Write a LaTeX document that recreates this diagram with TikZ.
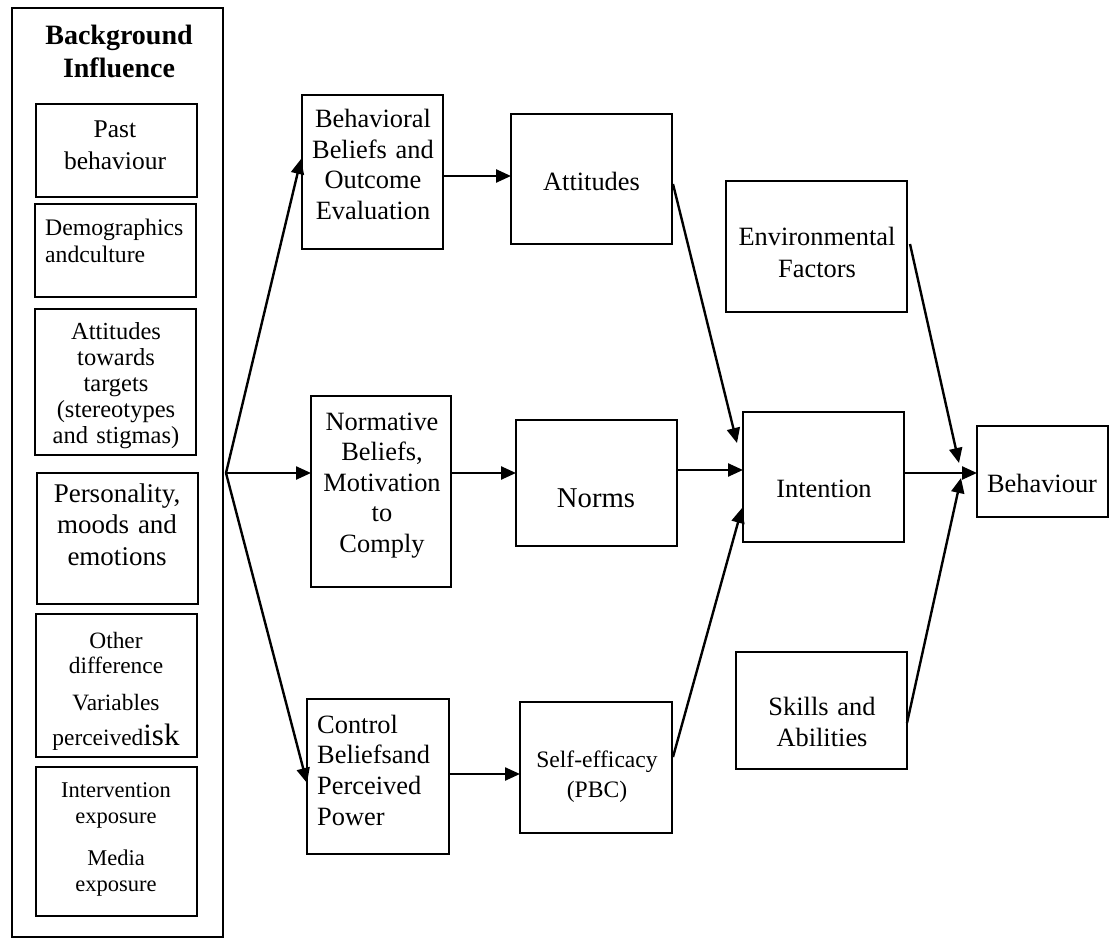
\documentclass[tikz,border=0pt]{standalone}
\usepackage{fontspec}
\setmainfont{Liberation Serif}
\usetikzlibrary{arrows.meta,calc}
\newcommand\myfs[2]{\fontsize{#1}{#2}\selectfont}
\begin{document}
\begin{tikzpicture}[x=1pt,y=-1pt,
  box/.style={draw, line width=2.6pt, inner sep=0pt, outer sep=0pt},
  outerbox/.style={draw, line width=1.7pt, inner sep=0pt, outer sep=0pt},
  ctext/.style={inner sep=0pt, anchor=base, text width=190pt, align=center},
  ltext/.style={inner sep=0pt, anchor=base west, text width=160pt, align=left},
  arr/.style={line width=2.4pt, -{Triangle[length=15pt,width=13pt]}}
]
\useasboundingbox (0,0) rectangle (1111,939);

% left column
\node[outerbox, minimum width=211, minimum height=929] (bg) at (117.5,472.5) {};
\node[ctext, font=\myfs{28}{33}\bfseries] (bgt) at (119,45) {Background\\Influence};

\node[box, minimum width=161, minimum height=93] (past) at (116.5,150.5) {};
\node[ctext, font=\myfs{25.5}{32}] (pastt) at (115,138) {Past\\behaviour};

\node[box, minimum width=161, minimum height=93] (demo) at (115.5,250.5) {};
\node[ltext, font=\myfs{23.7}{27}] (demot) at (45,235) {Demographics\\andculture};

\node[box, minimum width=161, minimum height=146] (att2) at (115.5,382) {};
\node[ctext, font=\myfs{24.5}{26}] (att2t) at (116,339) {Attitudes\\towards\\targets\\(stereotypes\\and stigmas)};

\node[box, minimum width=161, minimum height=131] (pers) at (117.5,538.5) {};
\node[ctext, font=\myfs{27}{31.5}] (perst) at (117,502) {Personality,\\moods and\\emotions};

\node[box, minimum width=161, minimum height=143] (other) at (116.5,685.5) {};
\node[ctext, font=\myfs{23.4}{25}] (othert) at (116,648) {Other\\difference\\[12pt]Variables\\[10pt]perceived{\myfs{31}{31}isk}};

\node[box, minimum width=161, minimum height=149] (interv) at (116.5,841.5) {};
\node[ctext, font=\myfs{22.5}{26}] (intervt) at (116,797) {Intervention\\exposure\\[16pt]Media\\exposure};

% middle column
\node[box, minimum width=141, minimum height=154] (bb) at (372.5,172) {};
\node[ctext, font=\myfs{26.4}{30.5}] (bbt) at (373,128) {Behavioral\\Beliefs and\\Outcome\\Evaluation};

\node[box, minimum width=140, minimum height=191] (norm) at (381,491.5) {};
\node[ctext, font=\myfs{26.4}{30.5}] (normt) at (382,430) {Normative\\Beliefs,\\Motivation\\to\\Comply};

\node[box, minimum width=142, minimum height=155] (ctrl) at (378,776.5) {};
\node[ltext, font=\myfs{26.4}{30.7}] (ctrlt) at (317,733) {Control\\Beliefsand\\Perceived\\Power};

\node[box, minimum width=161, minimum height=130] (att) at (591.5,179) {};
\node[ctext, font=\myfs{26.4}{30.5}] (attt) at (591.5,190) {Attitudes};

\node[box, minimum width=161, minimum height=126] (norms) at (596.5,483) {};
\node[ctext, font=\myfs{28.7}{32}] (normst) at (596,507) {Norms};

\node[box, minimum width=152, minimum height=131] (se) at (596,767.5) {};
\node[ctext, font=\myfs{23.6}{30}] (set) at (597,767) {Self-efficacy\\(PBC)};

% right part
\node[box, minimum width=181, minimum height=131] (env) at (816.5,246.5) {};
\node[ctext, font=\myfs{26.4}{32}] (envt) at (817,245) {Environmental\\Factors};

\node[box, minimum width=161, minimum height=130] (int) at (823.5,477) {};
\node[ctext, font=\myfs{26.4}{30.5}] (intt) at (824,497) {Intention};

\node[box, minimum width=171, minimum height=117] (skills) at (821.5,710.5) {};
\node[ctext, font=\myfs{26.4}{31}] (skillst) at (822,715) {Skills and\\Abilities};

\node[box, minimum width=131, minimum height=91] (beh) at (1042.5,471.5) {};
\node[ctext, font=\myfs{26.4}{30.5}] (beht) at (1042,492) {Behaviour};

% connectors
\coordinate (F) at (226,473);
\draw[arr] (F) -- ($(bb.west)+(-1,-13)$);
\draw[arr] (F) -- (F -| norm.west);
\draw[arr] (F) -- ($(ctrl.west)+(0,6.5)$);

\draw[arr] ($(bb.east)+(0,4)$) -- ($(att.west)+(0,-3)$);
\draw[arr] (norm.east |- F) -- (norms.west |- F);
\draw[arr] ($(ctrl.east)+(0,-2.5)$) -- ($(se.west)+(0,6.5)$);

\draw[arr] ($(att.east)+(1,5)$) -- ($(int.north west)+(-6,31)$);
\draw[arr] ($(norms.east)+(0,-13)$) -- ($(int.west)+(0,-7)$);
\draw[arr] ($(se.east)+(1,-10.5)$) -- ($(int.south west)+(-1,-34)$);

\draw[arr] ($(int.east)+(0,-4)$) -- ($(beh.west)+(0,1.5)$);
\draw[arr] ($(env.east)+(3,-2.5)$) -- ($(beh.north west)+(-18,37)$);
\draw[arr] ($(skills.east)+(0,12.5)$) -- ($(beh.south west)+(-16,-39)$);
\end{tikzpicture}
\end{document}
